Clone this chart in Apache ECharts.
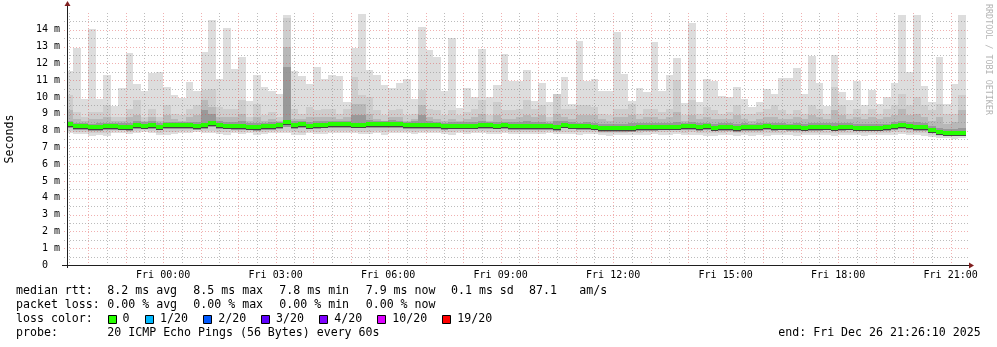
<!DOCTYPE html>
<html><head><meta charset="utf-8">
<script src="https://cdn.jsdelivr.net/npm/echarts@6/dist/echarts.min.js"></script>
<style>html,body{margin:0;padding:0;background:#fff}#c{width:997px;height:347px}</style>
</head><body><div id="c"></div>
<script>
// ---- data (ms), one value per 12-minute step, first step starts Thu 21:24 ----
const medianRtt = [
 8.38,8.26,8.26,8.22,8.22,8.26,8.28,8.24,8.20,8.34,8.30,8.34,8.24,8.32,8.32,8.32,8.32,8.28,8.34,8.46,
 8.34,8.30,8.28,8.28,8.24,8.22,8.28,8.28,8.32,8.50,8.34,8.38,8.30,8.34,8.36,8.38,8.38,8.38,8.36,8.36,
 8.38,8.38,8.38,8.40,8.38,8.34,8.34,8.34,8.34,8.34,8.28,8.30,8.30,8.30,8.30,8.34,8.34,8.30,8.32,8.28,
 8.28,8.28,8.28,8.28,8.28,8.22,8.36,8.30,8.26,8.26,8.24,8.16,8.16,8.16,8.16,8.16,8.22,8.22,8.22,8.24,
 8.24,8.24,8.26,8.26,8.22,8.26,8.18,8.22,8.22,8.16,8.22,8.22,8.22,8.26,8.22,8.24,8.20,8.22,8.18,8.22,
 8.22,8.24,8.18,8.20,8.24,8.18,8.18,8.18,8.18,8.20,8.28,8.34,8.28,8.22,8.20,8.05,7.92,7.88,7.88,7.88];
const pingMax = [
 11.55,12.94,9.87,14.06,9.87,11.32,9.49,10.56,12.59,10.80,10.36,11.40,11.50,10.60,10.14,9.97,10.92,10.38,12.70,14.60,
 11.08,14.13,11.67,12.39,9.77,11.32,10.58,10.36,10.17,14.89,11.55,11.27,10.78,11.79,11.08,11.32,11.26,9.73,12.94,14.93,
 11.61,11.32,10.72,10.56,10.86,11.06,9.87,14.15,12.80,12.41,10.38,13.54,9.37,10.52,9.99,12.86,9.99,10.72,12.55,10.96,
 10.96,11.61,9.77,10.84,9.71,10.18,11.18,9.57,13.34,10.96,11.08,10.36,10.36,13.84,11.38,9.77,10.54,10.30,13.28,10.36,
 11.32,12.33,9.63,14.43,9.71,11.06,10.96,10.07,9.99,10.60,9.91,9.43,9.71,10.48,10.18,11.12,11.12,11.73,10.18,12.45,
 10.82,9.49,12.50,10.30,9.83,10.94,9.53,10.42,9.59,10.02,10.82,14.89,11.51,14.89,10.66,9.73,12.41,9.59,10.78,14.89];
const pingHi2 = [
 10.1,9.1,8.8,9.1,9.1,9.5,8.8,8.8,9.3,9.8,8.8,9.3,8.8,9.5,9.0,8.9,9.3,9.5,10.4,10.5,
 9.4,9.3,9.3,9.8,8.8,9.6,8.9,9.1,8.8,14.7,9.3,9.0,9.4,9.2,9.3,9.3,9.0,9.3,11.2,10.1,
 10.0,9.2,8.9,9.2,9.3,8.9,9.0,10.4,9.3,9.2,8.9,9.2,8.9,9.1,9.3,9.8,8.9,9.7,9.2,9.2,
 9.3,9.8,9.3,9.5,8.8,10.2,9.3,9.3,9.5,9.5,9.4,9.0,8.9,9.3,9.3,9.6,9.0,9.3,9.3,9.1,
 9.3,11.0,8.9,9.8,9.0,9.4,9.2,9.0,9.1,9.5,9.0,9.0,9.1,9.3,9.5,9.2,9.0,9.2,9.0,9.5,
 9.3,9.0,10.6,9.5,9.0,9.3,9.0,9.3,9.0,9.3,9.5,10.2,9.5,10.0,9.5,9.2,9.6,9.0,9.0,10.1];
const pingHi3 = [
 9.2,8.7,8.6,8.7,8.7,8.8,8.6,8.6,8.8,8.9,8.6,8.8,8.6,8.9,8.7,8.6,8.8,8.9,9.8,9.4,
 8.8,8.8,8.8,9.0,8.6,8.8,8.6,8.7,8.6,13.0,8.7,8.7,8.8,8.8,8.8,8.8,8.7,8.8,9.6,9.6,
 9.0,8.7,8.6,8.8,8.8,8.6,8.7,9.5,8.8,8.7,8.6,8.7,8.6,8.7,8.8,9.0,8.6,8.9,8.7,8.7,
 8.8,8.9,8.8,8.9,8.6,9.0,8.8,8.7,8.9,8.9,8.9,8.7,8.6,8.8,8.8,8.9,8.7,8.8,8.8,8.7,
 8.8,9.1,8.6,8.9,8.7,8.8,8.7,8.7,8.7,8.9,8.7,8.6,8.7,8.8,8.8,8.7,8.7,8.8,8.7,8.9,
 8.8,8.7,9.2,8.9,8.7,8.8,8.7,8.8,8.7,8.8,8.9,9.3,8.9,9.0,8.8,8.6,8.8,8.4,8.5,9.2];
const pingHi4 = [
 8.60,8.46,8.46,8.42,8.44,8.48,8.48,8.46,8.44,8.56,8.50,8.56,8.46,8.54,8.52,8.52,8.54,8.52,9.20,9.00,
 8.56,8.52,8.50,8.60,8.44,8.48,8.48,8.50,8.52,11.80,8.56,8.58,8.52,8.56,8.58,8.58,8.58,8.58,8.90,8.90,
 8.62,8.58,8.58,8.62,8.60,8.54,8.56,8.90,8.56,8.54,8.48,8.50,8.50,8.52,8.52,8.60,8.54,8.54,8.54,8.50,
 8.50,8.56,8.50,8.54,8.48,8.60,8.56,8.50,8.48,8.50,8.48,8.40,8.38,8.42,8.42,8.44,8.44,8.44,8.44,8.44,
 8.46,8.52,8.46,8.52,8.44,8.48,8.40,8.44,8.44,8.40,8.44,8.42,8.44,8.48,8.44,8.46,8.42,8.46,8.40,8.46,
 8.44,8.44,8.46,8.44,8.44,8.40,8.40,8.40,8.40,8.42,8.50,8.60,8.52,8.50,8.44,8.28,8.14,8.12,8.12,8.18];
const pingLo3 = [
 8.14,8.04,8.04,8.00,8.00,8.04,8.06,8.02,7.98,8.12,8.08,8.12,8.02,8.10,8.10,8.10,8.10,8.06,8.12,8.22,
 8.12,8.08,8.06,8.06,8.02,8.00,8.06,8.06,8.10,8.24,8.12,8.16,8.08,8.12,8.14,8.16,8.16,8.16,8.14,8.14,
 8.16,8.16,8.16,8.18,8.16,8.12,8.12,8.12,8.12,8.12,8.06,8.08,8.08,8.08,8.08,8.12,8.12,8.08,8.10,8.06,
 8.06,8.06,8.06,8.06,8.06,8.00,8.14,8.08,8.04,8.04,8.02,7.94,7.94,7.94,7.94,7.94,8.00,8.00,8.00,8.02,
 8.02,8.02,8.04,8.04,8.00,8.04,7.96,8.00,8.00,7.94,8.00,8.00,8.00,8.04,8.00,8.02,7.98,8.00,7.96,8.00,
 8.00,8.02,7.96,7.98,8.02,7.96,7.96,7.96,7.96,7.98,8.06,8.12,8.06,8.00,7.98,7.84,7.72,7.68,7.68,7.68];
const pingLo2 = [
 7.96,7.92,7.92,7.86,7.88,7.86,7.96,7.96,7.92,8.00,8.02,7.96,7.88,7.90,7.94,8.00,7.96,8.02,7.96,8.00,
 7.94,7.90,7.96,7.94,7.98,7.90,7.94,7.96,7.98,8.00,7.90,7.88,7.96,7.94,7.96,7.98,7.98,7.96,7.96,7.94,
 7.94,7.96,7.90,7.96,7.98,7.96,7.94,7.96,7.98,7.96,7.94,7.90,7.96,7.94,7.96,7.98,7.94,7.94,7.96,7.94,
 7.94,7.94,7.92,7.94,7.96,7.92,7.94,7.94,7.90,7.92,7.92,7.88,7.86,7.88,7.88,7.90,7.88,7.90,7.92,7.90,
 7.90,7.92,7.88,7.90,7.88,7.86,7.84,7.88,7.90,7.86,7.88,7.84,7.88,7.86,7.88,7.88,7.90,7.84,7.88,7.88,
 7.88,7.88,7.86,7.88,7.88,7.86,7.86,7.88,7.88,7.88,7.90,7.92,7.88,7.86,7.86,7.76,7.70,7.68,7.66,7.70];
const pingMin = [
 7.84,7.79,7.79,7.70,7.74,7.70,7.84,7.84,7.79,7.87,7.92,7.84,7.72,7.76,7.80,7.87,7.84,7.90,7.84,7.87,
 7.80,7.76,7.84,7.82,7.86,7.76,7.80,7.84,7.86,7.88,7.76,7.72,7.84,7.80,7.82,7.84,7.86,7.84,7.84,7.82,
 7.80,7.84,7.76,7.84,7.86,7.84,7.80,7.84,7.86,7.84,7.82,7.76,7.84,7.80,7.84,7.86,7.80,7.82,7.84,7.82,
 7.80,7.82,7.78,7.80,7.84,7.80,7.82,7.80,7.76,7.80,7.78,7.74,7.70,7.72,7.74,7.76,7.74,7.76,7.78,7.76,
 7.76,7.78,7.72,7.76,7.74,7.70,7.66,7.72,7.76,7.70,7.72,7.66,7.72,7.70,7.74,7.72,7.76,7.66,7.72,7.74,
 7.74,7.72,7.70,7.72,7.74,7.72,7.70,7.72,7.74,7.72,7.76,7.78,7.74,7.72,7.70,7.62,7.56,7.54,7.52,7.56];

const stepStartHour = -2.6;   // Thu 21:24 relative to Fri 00:00
const stepHours = 0.2;        // 12 minutes
const xLabelHours = [0, 3, 6, 9, 12, 15, 18, 21];
const yTickValues = [0,1,2,3,4,5,6,7,8,9,10,11,12,13,14];
const xMin = -(2 + 33/60 + 50/3600);  // Thu 21:26:10
const xMax = xMin + 24;

const lossColors = ['#26ff00','#00b8ff','#0059ff','#5e00ff','#7e00ff','#dd00ff','#ff0000'];
const lossLabels = ['0','1/20','2/20','3/20','4/20','10/20','19/20'];

// ---- build series data ----
const smokeData = medianRtt.map((m, i) => {
  const t0 = stepStartHour + i * stepHours;
  return [t0, t0 + stepHours, pingMin[i], pingLo2[i], pingLo3[i], pingHi4[i], pingHi3[i], pingHi2[i], pingMax[i]];
});
const medianData = medianRtt.map((m, i) => {
  const t0 = stepStartHour + i * stepHours;
  return [t0, t0 + stepHours, m];
});
const vGridData = [];
for (let h = -2.5; h <= 21.25; h += 0.5) vGridData.push([h, 0]);
const hGridData = [];
for (let v = 0.5; v <= 14.5; v += 0.5) hGridData.push([xMin, v]);

const MONO = '"DejaVu Sans Mono", monospace';
const MGRID = 'rgba(222,79,79,0.45)';
const GRID = 'rgba(143,143,143,0.6)';

function colX(api, cs, t0, t1) {
  const xa = Math.round(Math.max(api.coord([t0, 0])[0], cs.x));
  const xb = Math.round(Math.min(api.coord([t1, 0])[0], cs.x + cs.width));
  return [xa, xb];
}

function renderSmoke(params, api) {
  const cs = params.coordSys;
  const [xa, xb] = colX(api, cs, api.value(0), api.value(1));
  const layers = [[2, 8, '#dddddd'], [3, 7, '#cdcdcd'], [4, 6, '#b8b8b8'], [4, 5, '#999999']];
  const children = layers.map(([l, h, c]) => {
    const yt = Math.round(api.coord([0, api.value(h)])[1]);
    const yb = Math.round(api.coord([0, api.value(l)])[1]);
    return { type: 'rect', shape: { x: xa, y: yt, width: xb - xa, height: yb - yt }, style: { fill: c } };
  });
  return { type: 'group', children };
}

function renderMedian(params, api) {
  const cs = params.coordSys;
  const [xa, xb] = colX(api, cs, api.value(0), api.value(1));
  const y = api.coord([0, api.value(2)])[1];
  return { type: 'group', children: [
    { type: 'rect', shape: { x: xa, y: Math.round(y) + 2, width: xb - xa, height: 1 }, style: { fill: '#444444' } },
    { type: 'rect', shape: { x: xa, y: Math.round(y) - 2, width: xb - xa, height: 4 }, style: { fill: '#26ff00' } }
  ]};
}

function renderVGrid(params, api) {
  const cs = params.coordSys;
  const h = api.value(0);
  const x = Math.round(api.coord([h, 0])[0]) + 0.5;
  const major = Math.abs(h - Math.round(h)) < 1e-6;
  return { type: 'line', shape: { x1: x, y1: cs.y, x2: x, y2: cs.y + cs.height + 3 },
    style: { stroke: major ? MGRID : GRID, lineWidth: 1, lineDash: [1, 2] } };
}

function renderHGrid(params, api) {
  const cs = params.coordSys;
  const v = api.value(1);
  const y = Math.round(api.coord([xMin, v])[1]) + 0.5;
  const major = Math.abs(v - Math.round(v)) < 1e-6;
  return { type: 'line', shape: { x1: cs.x - 3, y1: y, x2: cs.x + cs.width + 3, y2: y },
    style: { stroke: major ? MGRID : GRID, lineWidth: 1, lineDash: [1, 2] } };
}

// ---- legend graphics ----
const T = (text, x, y, extra) => Object.assign({ type: 'text', x: x, y: y,
  style: { text: text, font: '11.6px ' + MONO, fill: '#000', verticalAlign: 'middle', align: 'left' } }, extra || {});
const graphics = [
  T('median rtt:', 16, 291), T('8.2 ms avg', 107.3, 291), T('8.5 ms max', 193.3, 291),
  T('7.8 ms min', 279.3, 291), T('7.9 ms now', 365.7, 291), T('0.1 ms sd', 451, 291),
  T('87.1', 529, 291), T('am/s', 579.3, 291),
  T('packet loss:', 16, 305), T('0.00 % avg', 107.3, 305), T('0.00 % max', 193.3, 305),
  T('0.00 % min', 279.3, 305), T('0.00 % now', 365.7, 305),
  T('loss color:', 16, 319),
  T('probe:', 16, 333), T('20 ICMP Echo Pings (56 Bytes) every 60s', 107.3, 333),
  T('end: Fri Dec 26 21:26:10 2025', 778.3, 333)
];
const boxX = [108.5, 145.5, 203.5, 261.5, 319.5, 377.5, 442.5];
const labX = [122.5, 160, 218.3, 276, 334.3, 392.3, 457.3];
lossColors.forEach((c, i) => {
  graphics.push({ type: 'rect', shape: { x: boxX[i], y: 315.5, width: 8, height: 8 },
    style: { fill: c, stroke: '#000', lineWidth: 1 } });
  graphics.push(T(lossLabels[i], labX[i], 319));
});
graphics.push({ type: 'text', x: 10, y: 139, rotation: Math.PI / 2,
  style: { text: 'Seconds', font: '11.6px ' + MONO, fill: '#000', align: 'center', verticalAlign: 'middle' } });
graphics.push({ type: 'text', x: 988, y: 4, rotation: -Math.PI / 2,
  style: { text: 'RRDTOOL / TOBI OETIKER', font: '8.4px ' + MONO, fill: '#b4b4b4', align: 'left', verticalAlign: 'middle' } });
// axes lines and arrows
graphics.push({ type: 'line', shape: { x1: 67.5, y1: 5, x2: 67.5, y2: 268 }, style: { stroke: '#1f1f1f', lineWidth: 1 }, z: 50 });
graphics.push({ type: 'line', shape: { x1: 62, y1: 265.5, x2: 970, y2: 265.5 }, style: { stroke: '#1f1f1f', lineWidth: 1 }, z: 50 });
graphics.push({ type: 'polygon', shape: { points: [[64.5, 6], [70.5, 6], [67.5, 1]] }, style: { fill: '#801f1f' }, z: 50 });
graphics.push({ type: 'polygon', shape: { points: [[969, 262.5], [969, 268.5], [974, 265.5]] }, style: { fill: '#801f1f' }, z: 50 });

const chart = echarts.init(document.getElementById('c'), null, { renderer: 'canvas' });
chart.setOption({
  animation: false,
  backgroundColor: '#ffffff',
  grid: { left: 67, right: 30, top: 13, bottom: 82, containLabel: false },
  xAxis: {
    type: 'value', min: xMin, max: xMax,
    axisLine: { show: false }, axisTick: { show: false }, splitLine: { show: false },
    axisLabel: {
      customValues: xLabelHours, margin: 5, color: '#000', fontFamily: MONO, fontSize: 10,
      formatter: v => 'Fri ' + String(Math.round(v)).padStart(2, '0') + ':00'
    }
  },
  yAxis: {
    type: 'value', min: 0, max: 15, interval: 1,
    axisLine: { show: false }, axisTick: { show: false }, splitLine: { show: false },
    axisLabel: {
      customValues: yTickValues, margin: 7, color: '#000', fontFamily: MONO, fontSize: 10,
      formatter: v => v === 0 ? '0  ' : (v >= 15 ? '' : v + ' m')
    }
  },
  series: [
    { type: 'custom', name: 'smoke', renderItem: renderSmoke, data: smokeData, z: 2, silent: true,
      encode: { x: [0, 1], y: [2, 8] } },
    { type: 'custom', name: 'vgrid', renderItem: renderVGrid, data: vGridData, z: 3, silent: true,
      encode: { x: 0, y: 1 } },
    { type: 'custom', name: 'hgrid', renderItem: renderHGrid, data: hGridData, z: 3, silent: true,
      encode: { x: 0, y: 1 } },
    { type: 'custom', name: 'median rtt', renderItem: renderMedian, data: medianData, z: 4, silent: true,
      encode: { x: [0, 1], y: 2 } }
  ],
  graphic: graphics
});
</script></body></html>
